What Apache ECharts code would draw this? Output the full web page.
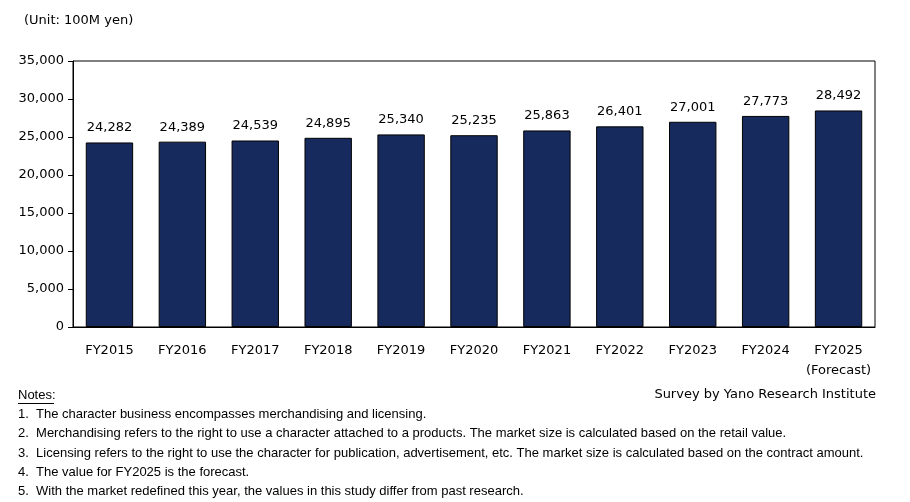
<!DOCTYPE html>
<html><head><meta charset="utf-8">
<script src="https://cdn.jsdelivr.net/npm/echarts@6/dist/echarts.min.js"></script>
<style>html,body{margin:0;padding:0;background:#fff}#c{width:910px;height:502px}</style>
</head><body><div id="c"></div>
<script>
const categories=["FY2015","FY2016","FY2017","FY2018","FY2019","FY2020","FY2021","FY2022","FY2023","FY2024","FY2025\n(Forecast)"];
const values=[24282,24389,24539,24895,25340,25235,25863,26401,27001,27773,28492];
const notes=["Notes:","1.  The character business encompasses merchandising and licensing.","2.  Merchandising refers to the right to use a character attached to a products. The market size is calculated based on the retail value.","3.  Licensing refers to the right to use the character for publication, advertisement, etc. The market size is calculated based on the contract amount.","4.  The value for FY2025 is the forecast.","5.  With the market redefined this year, the values in this study differ from past research."];
const F='"DejaVu Sans", sans-serif';
const N='"Liberation Sans", sans-serif';
const ch=echarts.init(document.getElementById('c'));
const g=[{type:'text',left:24,top:14,style:{text:'(Unit: 100M yen)',font:'13px '+F,fill:'#000'}},
{type:'text',right:34,top:388,style:{text:'Survey by Yano Research Institute',font:'13px '+F,fill:'#000'}}];
notes.forEach((n,i)=>g.push({type:'text',left:18,top:389+i*19.2,style:{text:n,font:'13px '+N,fill:'#000'}}));
g.push({type:'line',shape:{x1:18,y1:403.5,x2:54,y2:403.5},style:{stroke:'#000',lineWidth:1}});
ch.setOption({animation:false,
grid:{left:73,right:35,top:61,bottom:175,show:true,borderColor:'#000',borderWidth:1},
graphic:g,
xAxis:{type:'category',data:categories,axisLine:{lineStyle:{color:'#000'}},axisTick:{show:false},axisLabel:{interval:0,color:'#000',fontFamily:F,fontSize:13,margin:14,lineHeight:20}},
yAxis:{type:'value',min:0,max:35000,interval:5000,axisLine:{show:true,lineStyle:{color:'#000'}},axisTick:{show:true,inside:false,length:5,lineStyle:{color:'#000'}},splitLine:{show:false},axisLabel:{color:'#000',fontFamily:F,fontSize:13,margin:9,formatter:v=>v.toLocaleString('en-US')}},
series:[{type:'bar',data:values,barWidth:'65%',itemStyle:{color:'#172a5e',borderColor:'#000',borderWidth:1},label:{show:true,position:'top',distance:8,color:'#000',fontFamily:F,fontSize:13,formatter:p=>p.value.toLocaleString('en-US')}}]});
</script></body></html>
